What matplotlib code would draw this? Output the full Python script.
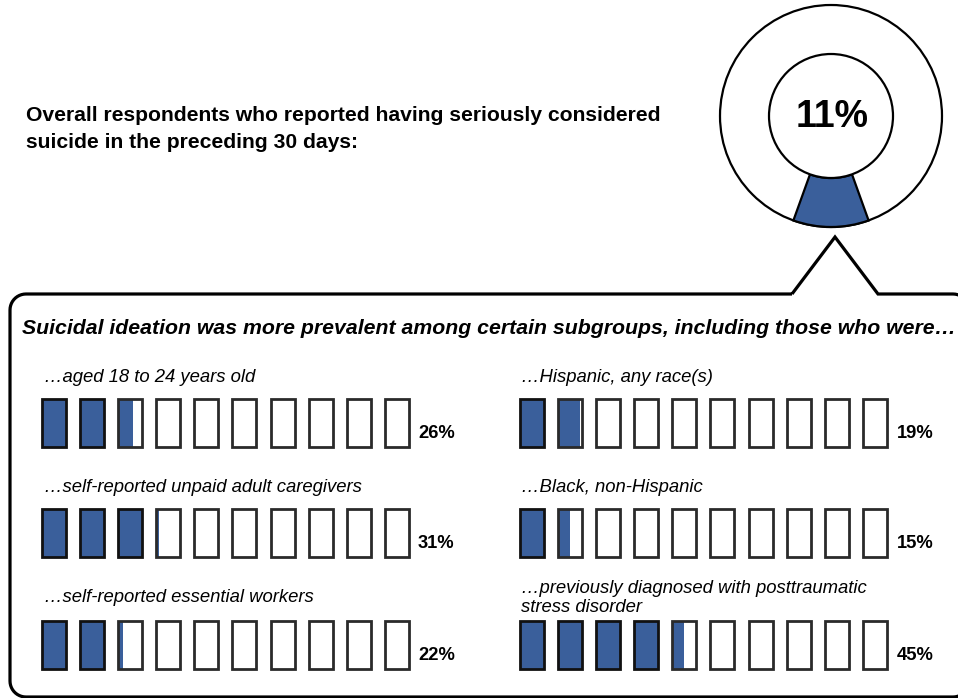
import numpy as np
import matplotlib
matplotlib.use("Agg")
import matplotlib.pyplot as plt
from matplotlib.patches import Rectangle, Circle, Wedge
from matplotlib.path import Path
from matplotlib.patches import PathPatch

# data
overall_value = 11
left_labels = ["…aged 18 to 24 years old",
               "…self-reported unpaid adult caregivers",
               "…self-reported essential workers"]
left_values = [26, 31, 22]
right_labels = ["…Hispanic, any race(s)",
                "…Black, non-Hispanic",
                "…previously diagnosed with posttraumatic\nstress disorder"]
right_values = [19, 15, 45]

BLUE = "#3A5F9B"
arial = ["Liberation Sans", "DejaVu Sans"]

fig = plt.figure(figsize=(9.58, 6.98), dpi=100)
ax = fig.add_axes([0, 0, 1, 1])
ax.set_xlim(0, 958)
ax.set_ylim(698, 0)
ax.axis("off")

# headline
ax.text(26, 129, "Overall respondents who reported having seriously considered\nsuicide in the preceding 30 days:",
        family=arial, fontweight="bold", fontsize=15.2, va="center", ha="left", linespacing=1.52)

# donut
cx, cy, R, r = 831, 116, 111, 62
ax.add_patch(Circle((cx, cy), R, fc="white", ec="black", lw=1.6))
half = overall_value / 100 * 360 / 2
ax.add_patch(Wedge((cx, cy), R, 90 - half, 90 + half, width=R - r, fc=BLUE, ec="black", lw=1.6))
ax.add_patch(Circle((cx, cy), r, fc="white", ec="black", lw=1.6))
ax.text(cx + 1, cy + 1, f"{overall_value}%", family=arial, fontweight="bold", fontsize=27,
        ha="center", va="center")

# speech box outline with pointer
rad = 16
top, bot, lft, rgt = 294, 697, 10, 969
t = np.linspace(0, np.pi / 2, 12)
pts = [(792, top), (835, 237), (878, top)]
pts += [(rgt - rad + rad * np.sin(a), top + rad - rad * np.cos(a)) for a in t]
pts += [(rgt - rad + rad * np.cos(a), bot - rad + rad * np.sin(a)) for a in t]
pts += [(lft + rad - rad * np.sin(a), bot - rad + rad * np.cos(a)) for a in t]
pts += [(lft + rad - rad * np.cos(a), top + rad - rad * np.sin(a)) for a in t]
pts += [(792, top)]
ax.add_patch(PathPatch(Path(pts), fc="none", ec="black", lw=2.3, joinstyle="miter"))

ax.text(22, 328, "Suicidal ideation was more prevalent among certain subgroups, including those who were…",
        family=arial, fontweight="bold", style="italic", fontsize=15.3, va="center", ha="left")

row_tops = [399, 509, 621]
label_y = [377, 487, 597]
bw, bh, pitch = 24, 48, 38.1


def draw_row(x0, top, value, pct_x):
    full = value // 10
    frac = (value % 10) / 10
    for i in range(10):
        x = x0 + i * pitch
        if i < full:
            ax.add_patch(Rectangle((x, top), bw, bh, fc=BLUE, ec="#111111", lw=2))
        else:
            if i == full and frac > 0:
                ax.add_patch(Rectangle((x, top), bw * frac, bh, fc=BLUE, ec="none"))
            ax.add_patch(Rectangle((x, top), bw, bh, fc="none", ec="#2a2a2a", lw=2))
    ax.text(pct_x, top + bh - 14, f"{value}%", family=arial, fontweight="bold", fontsize=13.2,
            ha="left", va="center")


for k in range(3):
    ax.text(44, label_y[k], left_labels[k], family=arial, style="italic", fontsize=13.3,
            ha="left", va="center")
    draw_row(42, row_tops[k], left_values[k], 418)
    ax.text(521, label_y[k] + 1, right_labels[k], family=arial, style="italic", fontsize=13.3,
            ha="left", va="center", linespacing=1.08)
    draw_row(520, row_tops[k], right_values[k], 897)

fig.savefig("out.png", dpi=100)
